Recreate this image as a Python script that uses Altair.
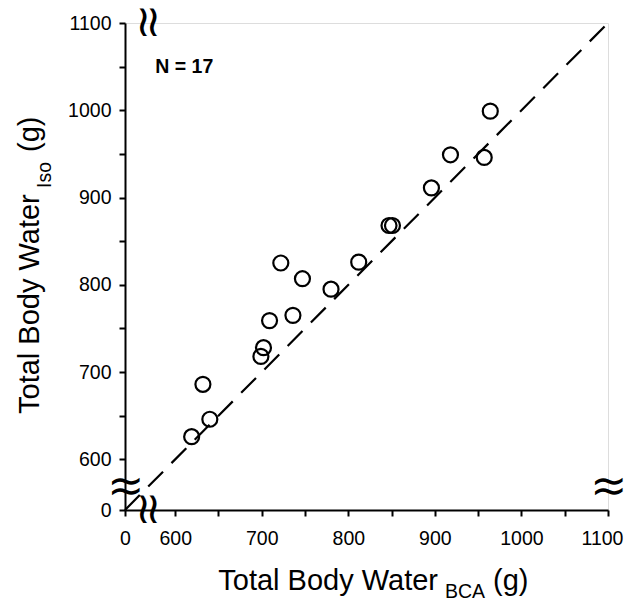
import altair as alt
import pandas as pd

# ---- data ----
bca = [619, 640, 632, 699, 702, 709, 722, 747, 736, 780, 812, 847, 851, 896, 918, 957, 964]
iso = [626, 646, 686, 718, 728, 759, 825, 807, 765, 795, 826, 868, 868, 911, 949, 946, 999]

# broken axis: the "0" of each axis is drawn at display value 542
ZERO_POS = 542
AXIS_MAX = 1100
tick_values = [542, 600, 650, 700, 750, 800, 850, 900, 950, 1000, 1050, 1100]
break_pos = 569
n_label = ["N = 17"]

x_title = ["Total Body Water", "BCA", "(g)"]
y_title = ["Total Body Water", "Iso", "(g)"]

FONT = "Liberation Sans"

label_expr = ("datum.value == 542 ? '0' : "
              "(datum.value % 100 == 0 ? format(datum.value, 'd') : '')")

xscale = alt.Scale(domain=[ZERO_POS, AXIS_MAX], nice=False, zero=False)
yscale = alt.Scale(domain=[ZERO_POS, AXIS_MAX], nice=False, zero=False)

xaxis = alt.Axis(values=tick_values, labelExpr=label_expr, title=None, grid=False,
                 domainColor="black", domainWidth=2, tickColor="black", tickWidth=2,
                 tickSize=6, labelFontSize=19.5, labelFont=FONT, labelColor="black",
                 labelPadding=13, labelFlush=False, labelOverlap=False,
                 labelOffset={"condition": {"test": "datum.value == 1100", "value": -6},
                              "value": 0})
yaxis = alt.Axis(values=tick_values, labelExpr=label_expr, title=None, grid=False,
                 domainColor="black", domainWidth=2, tickColor="black", tickWidth=2,
                 tickSize=6, labelFontSize=19.5, labelFont=FONT, labelColor="black",
                 labelPadding=8, labelFlush=False, labelOverlap=False)

pts = pd.DataFrame({"bca": bca, "iso": iso})

points = alt.Chart(pts).mark_point(shape="circle", filled=False, size=225,
                                   stroke="black", strokeWidth=2.2, opacity=1).encode(
    x=alt.X("bca:Q", scale=xscale, axis=xaxis),
    y=alt.Y("iso:Q", scale=yscale, axis=yaxis),
)

line_df = pd.DataFrame({"x": [ZERO_POS], "y": [ZERO_POS], "x2": [AXIS_MAX], "y2": [AXIS_MAX]})
identity = alt.Chart(line_df).mark_rule(color="black", strokeWidth=2.2,
                                        strokeDash=[21, 12]).encode(
    x=alt.X("x:Q", scale=xscale), y=alt.Y("y:Q", scale=yscale),
    x2="x2:Q", y2="y2:Q",
)

# axis-break symbols: two S-shaped strokes across each axis line
hb = pd.DataFrame({"x": [break_pos, break_pos], "y": [ZERO_POS, AXIS_MAX], "t": ["≀", "≀"]})
vb = pd.DataFrame({"x": [ZERO_POS, AXIS_MAX], "y": [break_pos, break_pos], "t": ["≀", "≀"]})


def hsym(dx):
    return alt.Chart(hb).mark_text(font="DejaVu Sans", fontSize=44, color="black",
                                   baseline="middle", align="center", dx=dx, dy=0).encode(
        x=alt.X("x:Q", scale=xscale), y=alt.Y("y:Q", scale=yscale), text="t:N")


def vsym(dy):
    return alt.Chart(vb).mark_text(font="DejaVu Sans", fontSize=44, color="black",
                                   baseline="middle", align="center", angle=90,
                                   dx=dy).encode(
        x=alt.X("x:Q", scale=xscale), y=alt.Y("y:Q", scale=yscale), text="t:N")


breaks = [hsym(-5), hsym(5), vsym(-5), vsym(5)]

nlab = alt.Chart(pd.DataFrame({"x": [577], "y": [1043], "t": n_label})).mark_text(
    font=FONT, fontSize=19.5, fontWeight="bold", color="black",
    align="left", baseline="alphabetic").encode(
    x=alt.X("x:Q", scale=xscale), y=alt.Y("y:Q", scale=yscale), text="t:N")


def txt(s, x, y, size, align="left", angle=0):
    return alt.Chart(pd.DataFrame({"t": [s]})).mark_text(
        font=FONT, fontSize=size, color="black", align=align,
        baseline="alphabetic", angle=angle).encode(
        x=alt.value(x), y=alt.value(y), text="t:N")


titles = [
    txt(x_title[0], 313, 567, 29, align="right"),
    txt(x_title[1], 320, 575, 19.5),
    txt(x_title[2], 368, 567, 29),
    txt(y_title[0], -86, 391, 29, angle=270),
    txt(y_title[1], -74, 165, 19.5, angle=270),
    txt(y_title[2], -86, 129, 29, angle=270),
]

chart = alt.layer(identity, points, *breaks, nlab, *titles).properties(
    width=483, height=487,
    autosize=alt.AutoSizeParams(type="none"),
    padding={"left": 117, "top": 15, "right": 16, "bottom": 90},
).configure_view(stroke="black", strokeWidth=2).configure(background="white")

chart.save("out.html", embed_options={"renderer": "svg", "actions": False})
